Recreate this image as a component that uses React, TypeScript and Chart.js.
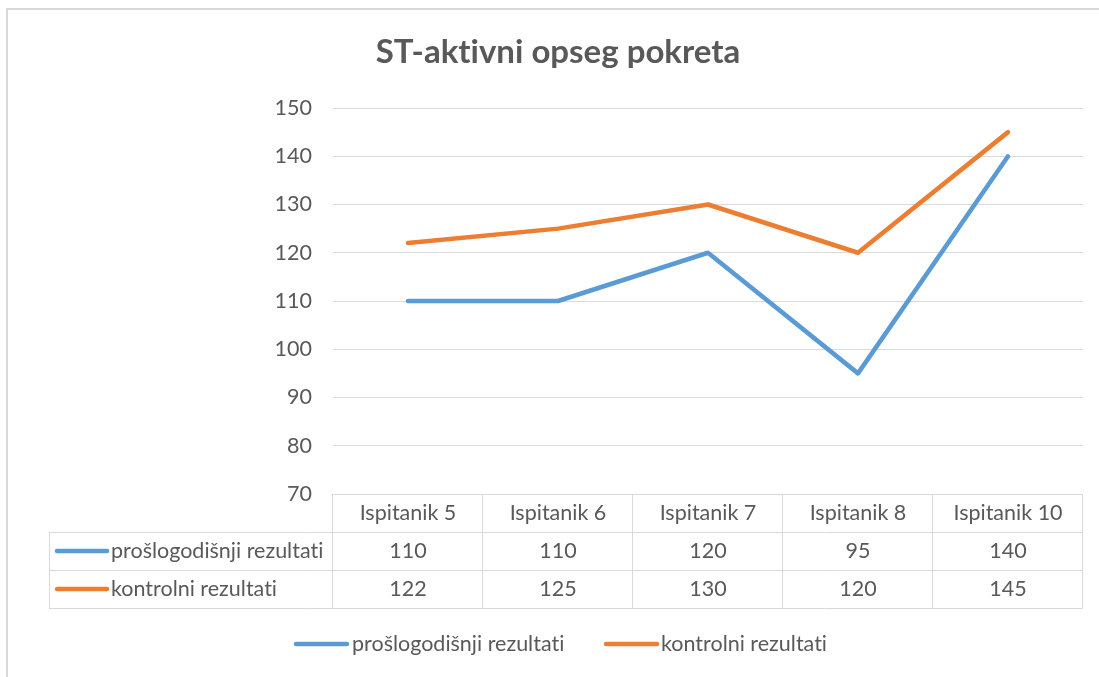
import React, { useEffect, useRef } from "react";
import { Chart, registerables } from "chart.js";

Chart.register(...registerables);

const title = "ST-aktivni opseg pokreta";
const categories = ["Ispitanik 5", "Ispitanik 6", "Ispitanik 7", "Ispitanik 8", "Ispitanik 10"];
const seriesNames = ["prošlogodišnji rezultati", "kontrolni rezultati"];
const proslogodisnji = [110, 110, 120, 95, 140];
const kontrolni = [122, 125, 130, 120, 145];
const seriesColors = ["#5B9BD5", "#ED7D31"];
const yMin = 70;
const yMax = 150;
const yStep = 10;

const FONT = "Lato, 'Open Sans', sans-serif";
const FS = 21.5;
const TEXT = "#595959";
const GRID = "#D9D9D9";

const tablePlugin = {
  id: "excelTable",
  afterDraw(chart: any) {
    const ctx = chart.ctx as CanvasRenderingContext2D;
    const xs = chart.scales.x;
    const area = chart.chartArea;
    const left = area.left;
    const right = area.right;
    const top = area.bottom;
    const rowH = 38;
    const labelLeft = 49;
    ctx.save();
    try {
      (ctx as any).textRendering = "optimizeSpeed";
    } catch (e) {}
    // outer border
    ctx.strokeStyle = GRID;
    ctx.lineWidth = 2;
    ctx.strokeRect(7, 9, 1300, 1000);

    // title
    ctx.fillStyle = TEXT;
    ctx.font = `bold 33px ${FONT}`;
    ctx.textAlign = "center";
    ctx.textBaseline = "alphabetic";
    ctx.fillText(title, 558, 63);

    // table grid
    ctx.strokeStyle = GRID;
    ctx.lineWidth = 1;
    ctx.beginPath();
    ctx.moveTo(left, top + 0.5);
    ctx.lineTo(right, top + 0.5);
    for (let r = 1; r <= 3; r++) {
      const y = Math.round(top + r * rowH) + 0.5;
      ctx.moveTo(labelLeft, y);
      ctx.lineTo(right, y);
    }
    const n = categories.length;
    const colW = (right - left) / n;
    for (let c = 0; c <= n; c++) {
      const x = Math.round(left + c * colW) - 0.5;
      ctx.moveTo(x, top);
      ctx.lineTo(x, top + 3 * rowH);
    }
    ctx.moveTo(labelLeft + 0.5, top + rowH);
    ctx.lineTo(labelLeft + 0.5, top + 3 * rowH);
    ctx.stroke();

    ctx.font = `${FS}px ${FONT}`;
    ctx.fillStyle = TEXT;
    ctx.textAlign = "center";
    ctx.textBaseline = "middle";
    categories.forEach((cat, i) => {
      const x = xs.getPixelForValue(i);
      ctx.fillText(cat, x, top + rowH / 2);
    });
    const allData = [proslogodisnji, kontrolni];
    allData.forEach((vals, r) => {
      const y = top + rowH * (r + 1) + rowH / 2;
      vals.forEach((v, i) => {
        const x = xs.getPixelForValue(i);
        ctx.fillText(String(v), x, y);
      });
      // row label with marker
      ctx.strokeStyle = seriesColors[r];
      ctx.lineWidth = 4.5;
      ctx.lineCap = "round";
      ctx.beginPath();
      ctx.moveTo(57, y);
      ctx.lineTo(107, y);
      ctx.stroke();
      ctx.textAlign = "left";
      ctx.fillText(seriesNames[r], 111, y);
      ctx.textAlign = "center";
    });

    // legend
    const ly = 644;
    const legendItems = [
      { x1: 296, x2: 347, tx: 352 },
      { x1: 606, x2: 657, tx: 661 },
    ];
    legendItems.forEach((it, i) => {
      ctx.strokeStyle = seriesColors[i];
      ctx.lineWidth = 4.5;
      ctx.lineCap = "round";
      ctx.beginPath();
      ctx.moveTo(it.x1, ly);
      ctx.lineTo(it.x2, ly);
      ctx.stroke();
      ctx.fillStyle = TEXT;
      ctx.textAlign = "left";
      ctx.fillText(seriesNames[i], it.tx, ly);
    });
    ctx.restore();
  },
};

export default function App() {
  const ref = useRef<HTMLCanvasElement | null>(null);
  useEffect(() => {
    if (!ref.current) return;
    const chart = new Chart(ref.current, {
      type: "line",
      data: {
        labels: categories,
        datasets: [
          {
            label: seriesNames[0],
            data: proslogodisnji,
            borderColor: seriesColors[0],
            backgroundColor: seriesColors[0],
            borderWidth: 4.5,
            pointRadius: 0,
            borderCapStyle: "round",
            borderJoinStyle: "round",
            tension: 0,
          },
          {
            label: seriesNames[1],
            data: kontrolni,
            borderColor: seriesColors[1],
            backgroundColor: seriesColors[1],
            borderWidth: 4.5,
            pointRadius: 0,
            borderCapStyle: "round",
            borderJoinStyle: "round",
            tension: 0,
          },
        ],
      },
      options: {
        responsive: false,
        animation: false,
        layout: { padding: { left: 0, right: 16, top: 108, bottom: 183 } },
        plugins: {
          legend: { display: false },
          title: { display: false },
          tooltip: { enabled: false },
        },
        scales: {
          x: {
            type: "category",
            display: false,
            offset: true,
          },
          y: {
            min: yMin,
            max: yMax,
            ticks: {
              stepSize: yStep,
              padding: 21,
              color: TEXT,
              font: { family: FONT, size: FS },
            },
            grid: { color: GRID, lineWidth: 1, drawTicks: false },
            border: { display: false },
            afterFit(scale: any) {
              scale.width = 333;
            },
          },
        },
      },
      plugins: [tablePlugin],
    });
    return () => chart.destroy();
  }, []);
  return (
    <div style={{ position: "fixed", left: 0, top: 0, width: 1099, height: 677, background: "#fff" }}>
      <canvas ref={ref} width={1099} height={677} />
    </div>
  );
}
